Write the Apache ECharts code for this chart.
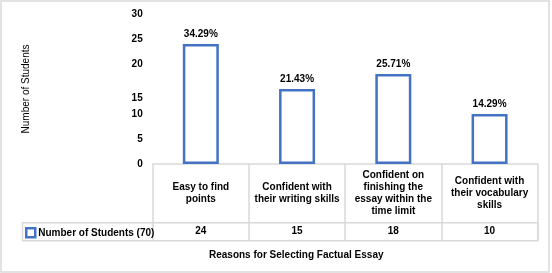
<!DOCTYPE html>
<html>
<head>
<meta charset="utf-8">
<script src="https://cdn.jsdelivr.net/npm/echarts@6/dist/echarts.min.js"></script>
<style>
  html, body { margin: 0; padding: 0; background: #fff; }
  #chart { width: 552px; height: 273px; }
</style>
</head>
<body>
<div id="chart"></div>
<script>
// reasons for selecting factual essay (n = 70)
var categories = [
    'Easy to find\npoints',
    'Confident with\ntheir writing skills',
    'Confident on\nfinishing the\nessay within the\ntime limit',
    'Confident with\ntheir vocabulary\nskills'
];
var students = [24, 15, 18, 10];
var percentLabels = ['34.29%', '21.43%', '25.71%', '14.29%'];
var seriesName = 'Number of Students (70)';

(function(){

    var chart = echarts.init(document.getElementById('chart'), null, {renderer: 'canvas'});

    var font = 'Liberation Sans, Arial, sans-serif';
    var border = '#d9d9d9';
    var blue = '#4472C4';

    var option = {
        animation: false,
        textStyle: { fontFamily: font },
        grid: {
            left: 152.7,
            right: 14.3,
            top: 14,
            bottom: 109
        },
        title: {
            text: 'Reasons for Selecting Factual Essay',
            left: 209,
            top: 250,
            padding: 0,
            textStyle: { fontFamily: font, fontSize: 10, fontWeight: 'bold', color: '#000' }
        },
        legend: {
            data: [seriesName],
            left: 25,
            top: 227,
            padding: 0,
            itemWidth: 9,
            itemHeight: 9,
            icon: 'rect',
            itemStyle: { color: '#fff', borderColor: blue, borderWidth: 2.5 },
            textStyle: { fontFamily: font, fontSize: 10, fontWeight: 'bold', color: '#000', padding: [0, 0, 0, -2] }
        },
        xAxis: [
            {
                type: 'category',
                data: categories,
                position: 'bottom',
                axisLine: { show: true, lineStyle: { color: border, width: 1.5 } },
                axisTick: { show: true, length: 77, alignWithLabel: false, lineStyle: { color: border, width: 1.5 } },
                axisLabel: {
                    interval: 0,
                    margin: 29,
                    verticalAlign: 'middle',
                    fontSize: 10,
                    fontWeight: 'bold',
                    lineHeight: 12,
                    color: '#000',
                    fontFamily: font
                },
                splitLine: { show: false }
            },
            {
                type: 'category',
                data: students.map(String),
                position: 'bottom',
                offset: 0,
                axisLine: { show: false },
                axisTick: { show: false },
                axisLabel: {
                    interval: 0,
                    margin: 67.7,
                    verticalAlign: 'middle',
                    fontSize: 10,
                    fontWeight: 'bold',
                    color: '#000',
                    fontFamily: font
                }
            }
        ],
        yAxis: {
            type: 'value',
            min: 0,
            max: 30,
            interval: 5,
            name: 'Number of Students',
            nameLocation: 'middle',
            nameGap: 121,
            nameRotate: 90,
            nameTextStyle: { fontFamily: font, fontSize: 10, color: '#000' },
            axisLine: { show: false },
            axisTick: { show: false },
            splitLine: { show: false },
            axisLabel: {
                margin: 10,
                fontSize: 10,
                fontWeight: 'bold',
                color: '#000',
                fontFamily: font,
                formatter: function (v) {
                    // the 15 label sits lower in the original figure
                    return v === 15 ? '{low|15}' : String(v);
                },
                rich: {
                    low: { padding: [18, 0, 0, 0], fontSize: 10, fontWeight: 'bold', color: '#000', fontFamily: font }
                }
            }
        },
        series: [
            {
                name: seriesName,
                type: 'bar',
                xAxisIndex: 0,
                data: students,
                barWidth: 36,
                itemStyle: { color: '#fff', borderColor: blue, borderWidth: 2.5 },
                label: {
                    show: true,
                    position: 'top',
                    distance: 5,
                    fontSize: 10,
                    fontWeight: 'bold',
                    color: '#000',
                    fontFamily: font,
                    formatter: function (p) { return percentLabels[p.dataIndex]; }
                }
            }
        ],
        graphic: [
            {
                type: 'rect',
                silent: true,
                shape: { x: 1, y: 1, width: 548, height: 271 },
                style: { fill: 'none', stroke: border, lineWidth: 1.5 }
            },
            {
                type: 'rect',
                silent: true,
                shape: { x: 22.5, y: 222.7, width: 515.2, height: 18 },
                style: { fill: 'none', stroke: border, lineWidth: 1.5 }
            }
        ]
    };

    chart.setOption(option);
})();
</script>
</body>
</html>
